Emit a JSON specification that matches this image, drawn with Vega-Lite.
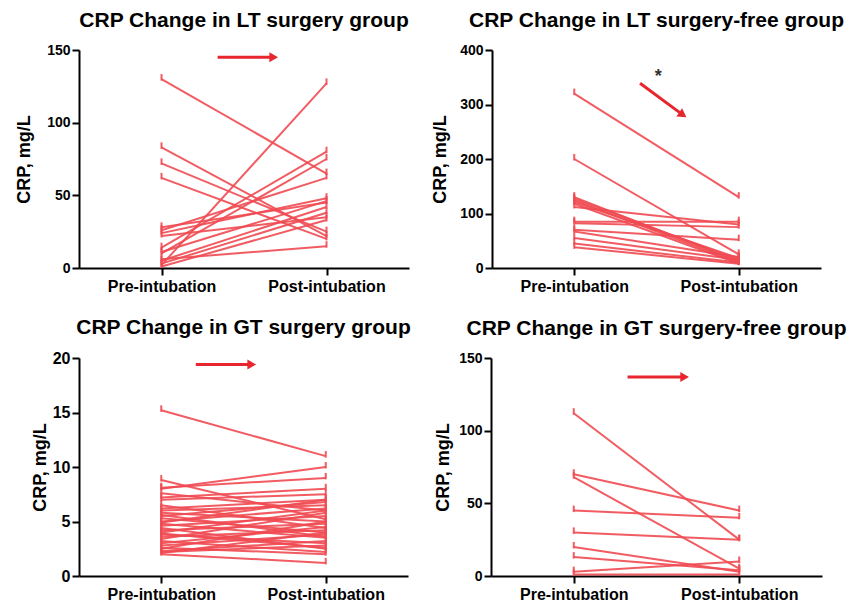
{
  "$schema": "https://vega.github.io/schema/vega-lite/v6.json",
  "padding": {"left": 15, "top": 10, "right": 0, "bottom": 0},
  "background": "white",
  "config": {
    "font": "Liberation Sans",
    "view": {"stroke": null},
    "axis": {"domainColor": "#000", "domainWidth": 2, "tickColor": "#000", "tickWidth": 2, "tickSize": 7, "labelColor": "#000", "labelFontWeight": "bold", "titleColor": "#000", "titleFontWeight": "bold", "grid": false},
    "axisY": {"labelFontSize": 14, "titleFontSize": 18, "titlePadding": 8, "labelPadding": 2},
    "axisX": {"labelFontSize": 16, "labelPadding": 3},
    "title": {"fontSize": 21, "fontWeight": "bold", "anchor": "middle", "frame": "group", "offset": 12, "color": "#000"}
  },
  "datasets": {
    "lt_surgery": [
      {"subject":1,"time":0,"crp":130},{"subject":1,"time":1,"crp":65},
      {"subject":2,"time":0,"crp":2},{"subject":2,"time":1,"crp":127},
      {"subject":3,"time":0,"crp":83},{"subject":3,"time":1,"crp":22},
      {"subject":4,"time":0,"crp":72},{"subject":4,"time":1,"crp":25},
      {"subject":5,"time":0,"crp":62},{"subject":5,"time":1,"crp":20},
      {"subject":6,"time":0,"crp":14},{"subject":6,"time":1,"crp":80},
      {"subject":7,"time":0,"crp":10},{"subject":7,"time":1,"crp":75},
      {"subject":8,"time":0,"crp":26},{"subject":8,"time":1,"crp":62},
      {"subject":9,"time":0,"crp":24},{"subject":9,"time":1,"crp":48},
      {"subject":10,"time":0,"crp":28},{"subject":10,"time":1,"crp":45},
      {"subject":11,"time":0,"crp":5},{"subject":11,"time":1,"crp":42},
      {"subject":12,"time":0,"crp":3},{"subject":12,"time":1,"crp":38},
      {"subject":13,"time":0,"crp":22},{"subject":13,"time":1,"crp":35},
      {"subject":14,"time":0,"crp":11},{"subject":14,"time":1,"crp":46},
      {"subject":15,"time":0,"crp":6},{"subject":15,"time":1,"crp":15},
      {"subject":16,"time":0,"crp":1},{"subject":16,"time":1,"crp":33}
    ],
    "lt_free": [
      {"subject":1,"time":0,"crp":320},{"subject":1,"time":1,"crp":130},
      {"subject":2,"time":0,"crp":200},{"subject":2,"time":1,"crp":25},
      {"subject":3,"time":0,"crp":130},{"subject":3,"time":1,"crp":12},
      {"subject":4,"time":0,"crp":127},{"subject":4,"time":1,"crp":15},
      {"subject":5,"time":0,"crp":124},{"subject":5,"time":1,"crp":10},
      {"subject":6,"time":0,"crp":121},{"subject":6,"time":1,"crp":18},
      {"subject":7,"time":0,"crp":118},{"subject":7,"time":1,"crp":8},
      {"subject":8,"time":0,"crp":112},{"subject":8,"time":1,"crp":80},
      {"subject":9,"time":0,"crp":85},{"subject":9,"time":1,"crp":85},
      {"subject":10,"time":0,"crp":82},{"subject":10,"time":1,"crp":75},
      {"subject":11,"time":0,"crp":70},{"subject":11,"time":1,"crp":52},
      {"subject":12,"time":0,"crp":67},{"subject":12,"time":1,"crp":20},
      {"subject":13,"time":0,"crp":55},{"subject":13,"time":1,"crp":15},
      {"subject":14,"time":0,"crp":45},{"subject":14,"time":1,"crp":10},
      {"subject":15,"time":0,"crp":38},{"subject":15,"time":1,"crp":8}
    ],
    "gt_surgery": [
      {"subject":1,"time":0,"crp":15.2},{"subject":1,"time":1,"crp":11},
      {"subject":2,"time":0,"crp":8.8},{"subject":2,"time":1,"crp":5.2},
      {"subject":3,"time":0,"crp":8.0},{"subject":3,"time":1,"crp":10},
      {"subject":4,"time":0,"crp":8.1},{"subject":4,"time":1,"crp":9},
      {"subject":5,"time":0,"crp":7.2},{"subject":5,"time":1,"crp":8},
      {"subject":6,"time":0,"crp":7.0},{"subject":6,"time":1,"crp":7.5},
      {"subject":7,"time":0,"crp":6.2},{"subject":7,"time":1,"crp":7},
      {"subject":8,"time":0,"crp":6.0},{"subject":8,"time":1,"crp":6.5},
      {"subject":9,"time":0,"crp":5.8},{"subject":9,"time":1,"crp":5},
      {"subject":10,"time":0,"crp":5.5},{"subject":10,"time":1,"crp":6.8},
      {"subject":11,"time":0,"crp":5.3},{"subject":11,"time":1,"crp":4},
      {"subject":12,"time":0,"crp":5.0},{"subject":12,"time":1,"crp":6.2},
      {"subject":13,"time":0,"crp":4.8},{"subject":13,"time":1,"crp":3.5},
      {"subject":14,"time":0,"crp":4.6},{"subject":14,"time":1,"crp":5.5},
      {"subject":15,"time":0,"crp":4.4},{"subject":15,"time":1,"crp":2.5},
      {"subject":16,"time":0,"crp":4.2},{"subject":16,"time":1,"crp":4.8},
      {"subject":17,"time":0,"crp":4.0},{"subject":17,"time":1,"crp":6},
      {"subject":18,"time":0,"crp":3.8},{"subject":18,"time":1,"crp":3},
      {"subject":19,"time":0,"crp":3.6},{"subject":19,"time":1,"crp":4.2},
      {"subject":20,"time":0,"crp":3.4},{"subject":20,"time":1,"crp":5.8},
      {"subject":21,"time":0,"crp":3.2},{"subject":21,"time":1,"crp":2.2},
      {"subject":22,"time":0,"crp":3.0},{"subject":22,"time":1,"crp":4.5},
      {"subject":23,"time":0,"crp":2.8},{"subject":23,"time":1,"crp":3.8},
      {"subject":24,"time":0,"crp":2.6},{"subject":24,"time":1,"crp":2},
      {"subject":25,"time":0,"crp":2.5},{"subject":25,"time":1,"crp":5},
      {"subject":26,"time":0,"crp":2.3},{"subject":26,"time":1,"crp":3.2},
      {"subject":27,"time":0,"crp":2.2},{"subject":27,"time":1,"crp":2.8},
      {"subject":28,"time":0,"crp":2.0},{"subject":28,"time":1,"crp":1.2},
      {"subject":29,"time":0,"crp":6.5},{"subject":29,"time":1,"crp":4.4},
      {"subject":30,"time":0,"crp":5.6},{"subject":30,"time":1,"crp":3.6},
      {"subject":31,"time":0,"crp":4.9},{"subject":31,"time":1,"crp":7},
      {"subject":32,"time":0,"crp":7.6},{"subject":32,"time":1,"crp":6},
      {"subject":33,"time":0,"crp":3.9},{"subject":33,"time":1,"crp":2.6},
      {"subject":34,"time":0,"crp":2.1},{"subject":34,"time":1,"crp":4}
    ],
    "gt_free": [
      {"subject":1,"time":0,"crp":112},{"subject":1,"time":1,"crp":25},
      {"subject":2,"time":0,"crp":70},{"subject":2,"time":1,"crp":45},
      {"subject":3,"time":0,"crp":68},{"subject":3,"time":1,"crp":5},
      {"subject":4,"time":0,"crp":45},{"subject":4,"time":1,"crp":40},
      {"subject":5,"time":0,"crp":30},{"subject":5,"time":1,"crp":25},
      {"subject":6,"time":0,"crp":20},{"subject":6,"time":1,"crp":3},
      {"subject":7,"time":0,"crp":13},{"subject":7,"time":1,"crp":4},
      {"subject":8,"time":0,"crp":3},{"subject":8,"time":1,"crp":10},
      {"subject":9,"time":0,"crp":1},{"subject":9,"time":1,"crp":1}
    ],
    "arrows": [
      {"panel":"lt_surgery","x0":0.34,"y0":145,"x1":0.68,"y1":145,"angle":0},
      {"panel":"lt_free","x0":0.40,"y0":339,"x1":0.66,"y1":281,"angle":35},
      {"panel":"gt_surgery","x0":0.21,"y0":19.4,"x1":0.55,"y1":19.4,"angle":0},
      {"panel":"gt_free","x0":0.325,"y0":137,"x1":0.67,"y1":137,"angle":0}
    ],
    "marks": [
      {"panel":"lt_free","x":0.51,"y":350,"label":"*"}
    ]
  },
  "spacing": 23,
  "vconcat": [
    {
      "spacing": 22,
      "hconcat": [
        {
          "width": 330, "height": 218,
          "title": "CRP Change in LT surgery group",
          "layer": [
            {"data": {"name": "lt_surgery"}, "mark": {"type": "line", "color": "#F04A52", "strokeWidth": 2, "strokeOpacity": 0.9},
             "encoding": {
               "x": {"field": "time", "type": "quantitative", "title": null, "scale": {"domain": [-0.5, 1.5], "nice": false, "zero": false}, "axis": {"values": [0, 1], "labelExpr": "datum.value == 0 ? 'Pre-intubation' : 'Post-intubation'"}},
               "y": {"field": "crp", "type": "quantitative", "title": "CRP, mg/L", "scale": {"domain": [0, 150], "nice": false}, "axis": {"values": [0, 50, 100, 150], "titlePadding": 13}},
               "detail": {"field": "subject"}}},
            {"data": {"name": "lt_surgery"}, "mark": {"type": "point", "shape": "M0,-1L0,0.3", "size": 100, "filled": false, "stroke": "#F04A52", "strokeWidth": 2, "opacity": 0.9},
             "encoding": {
               "x": {"field": "time", "type": "quantitative", "title": null},
               "y": {"field": "crp", "type": "quantitative", "title": "CRP, mg/L"}}},
            {"data": {"name": "arrows"}, "transform": [{"filter": "datum.panel == 'lt_surgery'"}], "mark": {"type": "rule", "color": "#E8262E", "strokeWidth": 3},
             "encoding": {
               "x": {"field": "x0", "type": "quantitative", "title": null}, "x2": {"field": "x1"},
               "y": {"field": "y0", "type": "quantitative", "title": "CRP, mg/L"}, "y2": {"field": "y1"}}},
            {"data": {"name": "arrows"}, "transform": [{"filter": "datum.panel == 'lt_surgery'"}], "mark": {"type": "point", "shape": "triangle-right", "size": 100, "filled": true, "color": "#E8262E", "opacity": 1},
             "encoding": {
               "x": {"field": "x1", "type": "quantitative", "title": null},
               "y": {"field": "y1", "type": "quantitative", "title": "CRP, mg/L"},
               "angle": {"field": "angle", "type": "quantitative", "scale": null}}}
          ]
        },
        {
          "width": 329, "height": 218,
          "title": "CRP Change in LT surgery-free group",
          "layer": [
            {"data": {"name": "lt_free"}, "mark": {"type": "line", "color": "#F04A52", "strokeWidth": 2, "strokeOpacity": 0.9},
             "encoding": {
               "x": {"field": "time", "type": "quantitative", "title": null, "scale": {"domain": [-0.5, 1.5], "nice": false, "zero": false}, "axis": {"values": [0, 1], "labelExpr": "datum.value == 0 ? 'Pre-intubation' : 'Post-intubation'"}},
               "y": {"field": "crp", "type": "quantitative", "title": "CRP, mg/L", "scale": {"domain": [0, 400], "nice": false}, "axis": {"values": [0, 100, 200, 300, 400], "titlePadding": 10}},
               "detail": {"field": "subject"}}},
            {"data": {"name": "lt_free"}, "mark": {"type": "point", "shape": "M0,-1L0,0.3", "size": 100, "filled": false, "stroke": "#F04A52", "strokeWidth": 2, "opacity": 0.9},
             "encoding": {
               "x": {"field": "time", "type": "quantitative", "title": null},
               "y": {"field": "crp", "type": "quantitative", "title": "CRP, mg/L"}}},
            {"data": {"name": "arrows"}, "transform": [{"filter": "datum.panel == 'lt_free'"}], "mark": {"type": "rule", "color": "#E8262E", "strokeWidth": 3},
             "encoding": {
               "x": {"field": "x0", "type": "quantitative", "title": null}, "x2": {"field": "x1"},
               "y": {"field": "y0", "type": "quantitative", "title": "CRP, mg/L"}, "y2": {"field": "y1"}}},
            {"data": {"name": "arrows"}, "transform": [{"filter": "datum.panel == 'lt_free'"}], "mark": {"type": "point", "shape": "triangle-right", "size": 100, "filled": true, "color": "#E8262E", "opacity": 1},
             "encoding": {
               "x": {"field": "x1", "type": "quantitative", "title": null},
               "y": {"field": "y1", "type": "quantitative", "title": "CRP, mg/L"},
               "angle": {"field": "angle", "type": "quantitative", "scale": null}}},
            {"data": {"name": "marks"}, "mark": {"type": "text", "fontSize": 18, "fontWeight": "bold", "color": "#333", "baseline": "middle"},
             "encoding": {
               "x": {"field": "x", "type": "quantitative", "title": null},
               "y": {"field": "y", "type": "quantitative", "title": "CRP, mg/L"},
               "text": {"field": "label"}}}
          ]
        }
      ]
    },
    {
      "spacing": 23,
      "hconcat": [
        {
          "width": 329, "height": 218,
          "title": "CRP Change in GT surgery group",
          "layer": [
            {"data": {"name": "gt_surgery"}, "mark": {"type": "line", "color": "#F04A52", "strokeWidth": 2, "strokeOpacity": 0.9},
             "encoding": {
               "x": {"field": "time", "type": "quantitative", "title": null, "scale": {"domain": [-0.5, 1.5], "nice": false, "zero": false}, "axis": {"values": [0, 1], "labelExpr": "datum.value == 0 ? 'Pre-intubation' : 'Post-intubation'"}},
               "y": {"field": "crp", "type": "quantitative", "title": "CRP, mg/L", "scale": {"domain": [0, 20], "nice": false}, "axis": {"values": [0, 5, 10, 15, 20], "labelFontSize": 16, "titlePadding": 3}},
               "detail": {"field": "subject"}}},
            {"data": {"name": "gt_surgery"}, "mark": {"type": "point", "shape": "M0,-1L0,0.3", "size": 100, "filled": false, "stroke": "#F04A52", "strokeWidth": 2, "opacity": 0.9},
             "encoding": {
               "x": {"field": "time", "type": "quantitative", "title": null},
               "y": {"field": "crp", "type": "quantitative", "title": "CRP, mg/L"}}},
            {"data": {"name": "arrows"}, "transform": [{"filter": "datum.panel == 'gt_surgery'"}], "mark": {"type": "rule", "color": "#E8262E", "strokeWidth": 3},
             "encoding": {
               "x": {"field": "x0", "type": "quantitative", "title": null}, "x2": {"field": "x1"},
               "y": {"field": "y0", "type": "quantitative", "title": "CRP, mg/L"}, "y2": {"field": "y1"}}},
            {"data": {"name": "arrows"}, "transform": [{"filter": "datum.panel == 'gt_surgery'"}], "mark": {"type": "point", "shape": "triangle-right", "size": 100, "filled": true, "color": "#E8262E", "opacity": 1},
             "encoding": {
               "x": {"field": "x1", "type": "quantitative", "title": null},
               "y": {"field": "y1", "type": "quantitative", "title": "CRP, mg/L"},
               "angle": {"field": "angle", "type": "quantitative", "scale": null}}}
          ]
        },
        {
          "width": 331, "height": 218,
          "title": "CRP Change in GT surgery-free group",
          "layer": [
            {"data": {"name": "gt_free"}, "mark": {"type": "line", "color": "#F04A52", "strokeWidth": 2, "strokeOpacity": 0.9},
             "encoding": {
               "x": {"field": "time", "type": "quantitative", "title": null, "scale": {"domain": [-0.5, 1.5], "nice": false, "zero": false}, "axis": {"values": [0, 1], "labelExpr": "datum.value == 0 ? 'Pre-intubation' : 'Post-intubation'"}},
               "y": {"field": "crp", "type": "quantitative", "title": "CRP, mg/L", "scale": {"domain": [0, 150], "nice": false}, "axis": {"values": [0, 50, 100, 150], "titlePadding": 6}},
               "detail": {"field": "subject"}}},
            {"data": {"name": "gt_free"}, "mark": {"type": "point", "shape": "M0,-1L0,0.3", "size": 100, "filled": false, "stroke": "#F04A52", "strokeWidth": 2, "opacity": 0.9},
             "encoding": {
               "x": {"field": "time", "type": "quantitative", "title": null},
               "y": {"field": "crp", "type": "quantitative", "title": "CRP, mg/L"}}},
            {"data": {"name": "arrows"}, "transform": [{"filter": "datum.panel == 'gt_free'"}], "mark": {"type": "rule", "color": "#E8262E", "strokeWidth": 3},
             "encoding": {
               "x": {"field": "x0", "type": "quantitative", "title": null}, "x2": {"field": "x1"},
               "y": {"field": "y0", "type": "quantitative", "title": "CRP, mg/L"}, "y2": {"field": "y1"}}},
            {"data": {"name": "arrows"}, "transform": [{"filter": "datum.panel == 'gt_free'"}], "mark": {"type": "point", "shape": "triangle-right", "size": 100, "filled": true, "color": "#E8262E", "opacity": 1},
             "encoding": {
               "x": {"field": "x1", "type": "quantitative", "title": null},
               "y": {"field": "y1", "type": "quantitative", "title": "CRP, mg/L"},
               "angle": {"field": "angle", "type": "quantitative", "scale": null}}}
          ]
        }
      ]
    }
  ]
}
